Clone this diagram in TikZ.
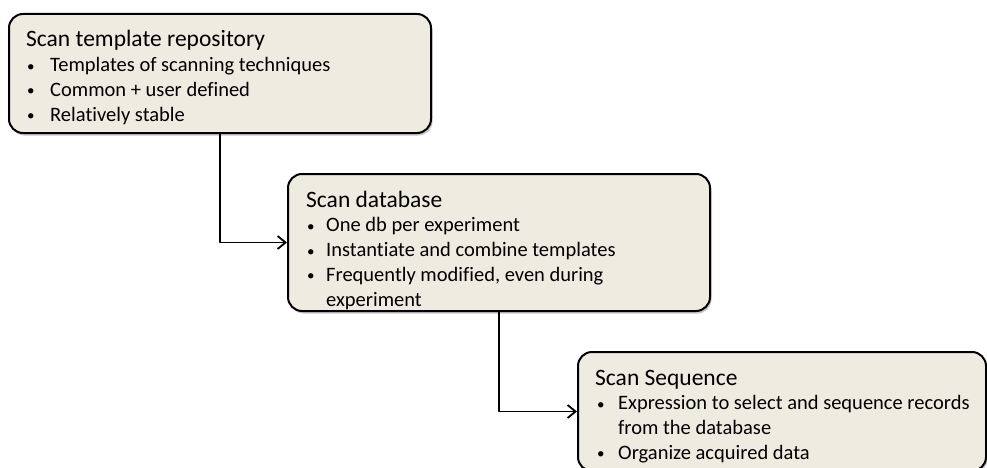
\documentclass[tikz,border=0pt]{standalone}
\usepackage{fontspec}
\setmainfont{Carlito}[Ligatures=NoCommon]
\usetikzlibrary{arrows.meta,shadows}

\definecolor{boxfill}{HTML}{EEECE1}
\newcommand{\bul}[2]{\hspace*{#1}\makebox[#2][l]{\raisebox{0.5pt}{\fontsize{15}{15}\selectfont\textbullet}}}
\newcommand{\ttl}{\fontsize{23.5}{24.5}\selectfont}

\begin{document}
\begin{tikzpicture}[x=1pt,y=-1pt,line cap=round,line join=round,
	box/.style={draw=black,line width=2pt,fill=boxfill,rounded corners=14pt,anchor=north west,
		drop shadow={opacity=0.45,shadow xshift=1.5pt,shadow yshift=-2.5pt}},
	txt/.style={anchor=base west,inner sep=0pt,font=\fontsize{20.5}{24.75}\selectfont},
	conn/.style={line width=1.8pt,-{Straight Barb[length=8pt,width=13pt]}}]
		\useasboundingbox (0,0) rectangle (987,468);
		\node[box,minimum width=422pt,minimum height=119pt] (repo) at (8,13) {};
		\node[box,minimum width=422pt,minimum height=137pt] (db) at (287,173) {};
		\node[box,minimum width=408pt,minimum height=119pt] (seq) at (577,351) {};
		\node[txt] (repotxt) at (26,47) {\begin{tabular}[t]{@{}l@{}l@{}}
			\multicolumn{2}{@{}l@{}}{\ttl Scan template repository}\\
			\bul{1pt}{23pt} & Templates of scanning techniques\\
			\bul{1pt}{23pt} & Common + user defined\\
			\bul{1pt}{23pt} & Relatively stable
		\end{tabular}};
		\node[txt] (dbtxt) at (306,207) {\begin{tabular}[t]{@{}l@{}l@{}}
			\multicolumn{2}{@{}l@{}}{\ttl Scan database}\\
			\bul{1pt}{19pt} & One db per experiment\\
			\bul{1pt}{19pt} & Instantiate and combine templates\\
			\bul{1pt}{19pt} & Frequently modified, even during\\
			 & experiment
		\end{tabular}};
		\node[txt] (seqtxt) at (595,385) {\begin{tabular}[t]{@{}l@{}l@{}}
			\multicolumn{2}{@{}l@{}}{\ttl Scan Sequence}\\
			\bul{2pt}{21pt} & Expression to select and sequence records\\
			 & from the database\\
			\bul{2pt}{21pt} & Organize acquired data
		\end{tabular}};
		\draw[conn] (repo.south) |- (db.west);
		\draw[conn] (db.south) |- (seq.west);
	\end{tikzpicture}
\end{document}
